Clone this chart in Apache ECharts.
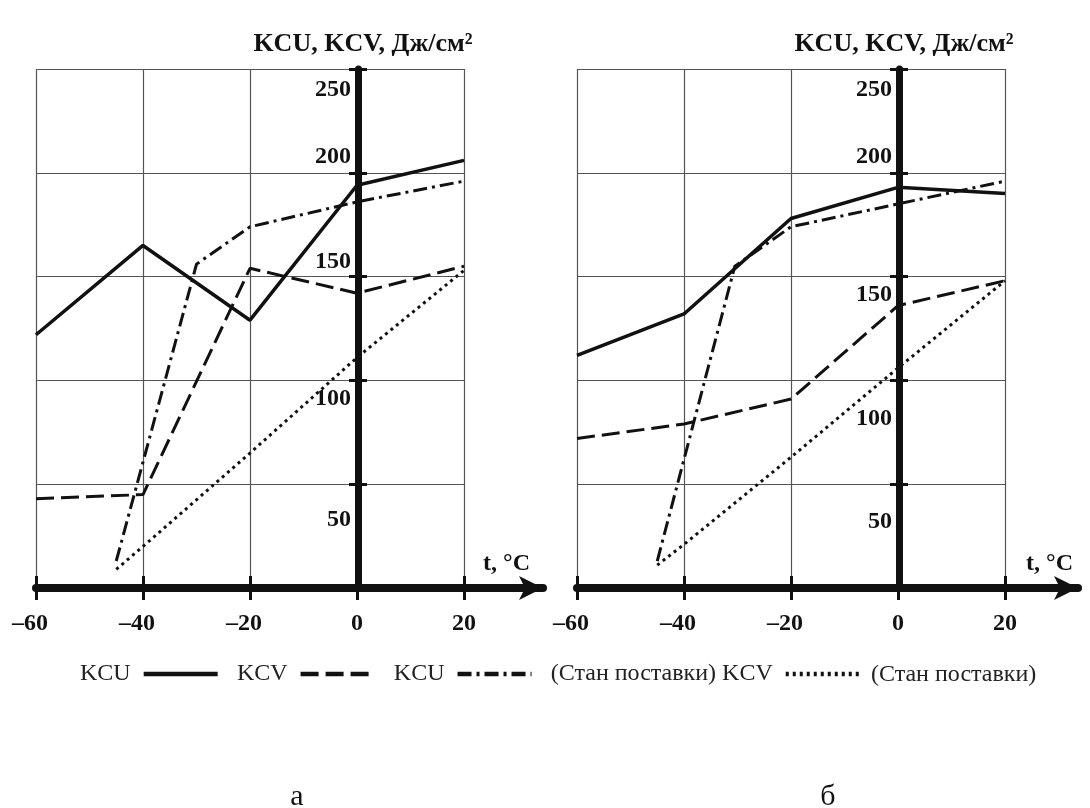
<!DOCTYPE html>
<html>
<head>
<meta charset="utf-8">
<script src="https://cdn.jsdelivr.net/npm/echarts@6/dist/echarts.min.js"></script>
<style>
  html, body { margin: 0; padding: 0; background: #fff; }
  #chart { width: 1090px; height: 808px; }
</style>
</head>
<body>
<div id="chart"></div>
<script>
// данные
var tempTicks = [-60, -40, -20, 0, 20];

// панель а
var tempA = [-60, -40, -20, 0, 20];
var kcuA = [122, 165, 129, 194, 206];
var kcvA = [43, 45, 154, 142, 155];
var kcuSupplyTempA = [-45, -30, -20, 0, 20];
var kcuSupplyA = [13, 156, 174, 186, 196];
var kcvSupplyTempA = [-45, -40, -20, 0, 20];
var kcvSupplyA = [9, 20, 65, 111, 153];

// панель б
var tempB = [-60, -40, -20, 0, 20];
var kcuB = [112, 132, 178, 193, 190];
var kcvB = [72, 79, 91, 136, 148];
var kcuSupplyTempB = [-45, -30.5, -20, 0, 20];
var kcuSupplyB = [13, 155, 174, 185, 196];
var kcvSupplyTempB = [-45, -40, -20, 0, 20];
var kcvSupplyB = [11, 21, 63, 106, 148];

var seriesNames = ['KCU', 'KCV', 'KCU (Стан поставки)', 'KCV (Стан поставки)'];
var legendText = ['KCU', 'KCV', 'KCU', '(Стан поставки) KCV'];

//оформление
var FONT = "'Liberation Serif', 'Times New Roman', serif";
var INK = '#111';
var lineTypes = ['solid', [18, 7], [14, 5, 3, 5], [3, 4]];

// сдвиг подписей оси Y относительно линий сетки (как на рисунке)
var yLabelShift = [
    {250: 21, 200: -16, 150: -15, 100: 18, 50: 36},
    {250: 21, 200: -16, 150: 18, 100: 38, 50: 38}
];

var panels = [
    {left: 36, plotW: 428, arrowEnd: 543, nameGap: -13, label: 'а', labelX: 297,
     temps: [tempA, tempA, kcuSupplyTempA, kcvSupplyTempA],
     vals: [kcuA, kcvA, kcuSupplyA, kcvSupplyA]},
    {left: 577, plotW: 428, arrowEnd: 1078, nameGap: -5, label: 'б', labelX: 828,
     temps: [tempB, tempB, kcuSupplyTempB, kcvSupplyTempB],
     vals: [kcuB, kcvB, kcuSupplyB, kcvSupplyB]}
];

var TOP = 69, HEIGHT = 519;

function pairs(xs, ys) {
    return xs.map(function (x, i) { return [x, ys[i]]; });
}

var grids = [], xAxes = [], yAxes = [], series = [], graphics = [];

panels.forEach(function (p, k) {
    var pxPerDeg = p.plotW / 80;
    var arrowMax = -60 + (p.arrowEnd - p.left) / pxPerDeg;
    // ось Y стоит на t = 0
    var yOffset = -(60 * pxPerDeg + 1);
    var gPlot = grids.length, gArrow = gPlot + 1;
    grids.push({left: p.left, top: TOP, width: p.plotW, height: HEIGHT});
    grids.push({left: p.left, top: TOP, width: p.arrowEnd - p.left, height: HEIGHT});

    var xPlot = xAxes.length;
    // ось температуры с сеткой и подписями
    xAxes.push({
        type: 'value', gridIndex: gPlot, min: -60, max: 20, interval: 20,
        axisLine: {show: false},
        axisTick: {show: true, length: 12, lineStyle: {color: INK, width: 3}},
        axisLabel: {
            margin: 24, fontSize: 24, fontWeight: 'bold', fontFamily: FONT, color: INK,
            formatter: function (v) {
                return v < 0 ? '{neg|\u2013' + Math.abs(v) + '}' : '{pos|' + v + '}';
            },
            rich: {
                neg: {fontSize: 24, fontWeight: 'bold', fontFamily: FONT, color: INK, padding: [0, 12, 0, 0]},
                pos: {fontSize: 24, fontWeight: 'bold', fontFamily: FONT, color: INK}
            }
        },
        splitLine: {show: true, lineStyle: {color: '#555', width: 1.2}}
    });
    // толстая ось со стрелкой
    xAxes.push({
        type: 'value', gridIndex: gArrow, min: -60, max: arrowMax,
        name: 't, °C', nameLocation: 'end', nameGap: p.nameGap,
        nameTextStyle: {fontSize: 24, fontWeight: 'bold', fontFamily: FONT, color: INK,
            align: 'right', verticalAlign: 'bottom', padding: [0, 0, 12, 0]},
        axisLine: {show: true, lineStyle: {color: INK, width: 8},
            symbol: ['none', 'arrow'], symbolSize: [18, 24]},
        axisTick: {show: true, inside: true, length: 12, customValues: tempTicks,
            lineStyle: {color: INK, width: 3}},
        axisLabel: {show: false},
        splitLine: {show: false}
    });

    var shift = yLabelShift[k];
    var rich = {};
    Object.keys(shift).forEach(function (v) {
        var d = shift[v];
        rich['v' + v] = {fontSize: 24, fontWeight: 'bold', fontFamily: FONT, color: INK,
            padding: d > 0 ? [2 * d, 0, 0, 0] : [0, 0, -2 * d, 0]};
    });
    yAxes.push({
        type: 'value', gridIndex: gPlot, min: 0, max: 250, interval: 50,
        position: 'left', offset: yOffset,
        name: 'KCU, KCV, Дж/см²', nameLocation: 'end', nameGap: 12,
        nameTextStyle: {fontSize: 26, fontWeight: 'bold', fontFamily: FONT, color: INK, padding: [0, 0, 0, 10]},
        axisLine: {show: true, onZero: false, lineStyle: {color: INK, width: 7}},
        axisTick: {show: true, length: 9, lineStyle: {color: INK, width: 3}},
        axisLabel: {
            margin: 7,
            formatter: function (v) { return v === 0 ? '' : '{v' + v + '|' + v + '}'; },
            rich: rich
        },
        splitLine: {show: true, lineStyle: {color: '#555', width: 1.2}}
    });
    // второй набор засечек - вправо от оси
    yAxes.push({
        type: 'value', gridIndex: gPlot, min: 0, max: 250, interval: 50,
        position: 'left', offset: yOffset,
        axisLine: {show: false, onZero: false},
        axisTick: {show: true, inside: true, length: 9, lineStyle: {color: INK, width: 3}},
        axisLabel: {show: false},
        splitLine: {show: false}
    });
    yAxes.push({type: 'value', gridIndex: gArrow, min: 0, max: 250, show: false});

    var yPlot = yAxes.length - 3;
    seriesNames.forEach(function (name, i) {
        series.push({
            name: name, type: 'line', xAxisIndex: xPlot, yAxisIndex: yPlot,
            symbol: 'none', silent: true,
            lineStyle: {color: INK, width: i === 0 ? 3.5 : 3, type: lineTypes[i]},
            itemStyle: {color: INK},
            data: pairs(p.temps[i], p.vals[i])
        });
    });

    graphics.push({
        type: 'text', x: p.labelX, y: 797,
        style: {text: p.label, fontSize: 30, fontFamily: FONT, fill: INK, align: 'center', verticalAlign: 'middle'}
    });
});

graphics.push({
    type: 'text', x: 871, y: 675,
    style: {text: '(Стан поставки)', fontSize: 24, fontFamily: FONT, fill: '#222', align: 'left', verticalAlign: 'middle'}
});

var option = {
    animation: false,
    backgroundColor: '#fff',
    grid: grids,
    xAxis: xAxes,
    yAxis: yAxes,
    legend: {
        data: seriesNames,
        left: 80, top: 662, padding: 0,
        align: 'right',
        itemWidth: 74, itemHeight: 14, itemGap: 17,
        itemStyle: {opacity: 0},
        lineStyle: {width: 4.5},
        formatter: function (name) { return legendText[seriesNames.indexOf(name)]; },
        textStyle: {fontSize: 24, fontFamily: FONT, color: '#222', padding: [0, 8, 0, 0]}
    },
    graphic: graphics,
    series: series
};

var myChart = echarts.init(document.getElementById('chart'));
myChart.setOption(option);
</script>
</body>
</html>
